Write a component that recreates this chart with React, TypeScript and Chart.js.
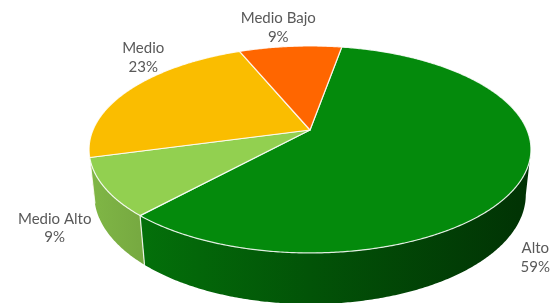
import React, { useEffect, useRef } from 'react';
import { Chart, registerables } from 'chart.js';

Chart.register(...registerables);

// ---- data ----
const categories = ['Alto', 'Medio Alto', 'Medio', 'Medio Bajo'];
const percentages = [59, 9, 23, 9];
const sliceColors = ['#048A0C', '#92D050', '#FABD00', '#FF6600'];
const firstSliceAngle = 10;
// label placement relative to the projected outer edge at each slice's middle angle
const labelOffsets = [
  [13, 75],
  [-50, 36],
  [13, -36],
  [-12, -23],
];

// ---- 3D projection constants (relative to pie radius) ----
const RD = 0.2117; // radius / camera distance
const COS_T = 0.888;
const SIN_T = 0.46;
const DEPTH = 0.05; // thickness / camera distance
const FOCAL = 7.885; // focal length in units of pie radius

function hexToRgb(h: string): number[] {
  const s = h.replace('#', '');
  return [0, 2, 4].map((i) => parseInt(s.slice(i, i + 2), 16));
}

function shadeColor(hex: string, f: number): string {
  const [r, g, b] = hexToRgb(hex);
  const c = (x: number) => Math.max(0, Math.min(255, Math.round(x * f)));
  return `rgb(${c(r)},${c(g)},${c(b)})`;
}

const pie3d = {
  id: 'pie3d',
  beforeDatasetsDraw(chart: any) {
    const meta = chart.getDatasetMeta(0);
    const arcs = meta.data as any[];
    if (!arcs.length) return false;
    const ctx: CanvasRenderingContext2D = chart.ctx;
    const cx = arcs[0].x;
    const cy = arcs[0].y;
    const r = arcs[0].outerRadius;
    const F = r * FOCAL;
    const proj = (phi: number, rho: number, h: number): [number, number] => {
      const u = rho * Math.cos(phi);
      const v = rho * Math.sin(phi);
      const zn = 1 - RD * v * COS_T + h * DEPTH * SIN_T;
      return [cx + (F * RD * u) / zn, cy + (F * (RD * v * SIN_T + h * DEPTH * COS_T)) / zn];
    };
    const step = Math.PI / 360;
    const halfW = F * RD * 1.02;
    const sil = Math.asin(RD * COS_T);
    const visLo = sil;
    const visHi = Math.PI - sil;

    ctx.save();
    // side walls (only the part facing the viewer), one band per slice
    arcs.forEach((el) => {
      const color = el.options.backgroundColor as string;
      for (const shift of [-2 * Math.PI, 0, 2 * Math.PI]) {
        const a0 = Math.max(el.startAngle + shift, visLo);
        const a1 = Math.min(el.endAngle + shift, visHi);
        if (a1 <= a0) continue;
        const n = Math.max(1, Math.ceil((a1 - a0) / step));
        ctx.beginPath();
        for (let k = 0; k <= n; k++) {
          const p = a0 + ((a1 - a0) * k) / n;
          const P = proj(p, 1, 0);
          if (k === 0) ctx.moveTo(P[0], P[1]);
          else ctx.lineTo(P[0], P[1]);
        }
        for (let k = n; k >= 0; k--) {
          const p = a0 + ((a1 - a0) * k) / n;
          const P = proj(p, 1, 1);
          ctx.lineTo(P[0], P[1]);
        }
        ctx.closePath();
        const g = ctx.createLinearGradient(cx - halfW, 0, cx + halfW, 0);
        g.addColorStop(0, shadeColor(color, 0.88));
        g.addColorStop(0.5, shadeColor(color, 0.6));
        g.addColorStop(1, shadeColor(color, 0.36));
        ctx.fillStyle = g;
        ctx.fill();
      }
    });
    // vertical edges at slice boundaries on the front
    arcs.forEach((el) => {
      const a = el.startAngle;
      if (Math.sin(a) > 0) {
        const T = proj(a, 1, 0);
        const Bt = proj(a, 1, 1);
        ctx.beginPath();
        ctx.moveTo(T[0], T[1]);
        ctx.lineTo(Bt[0], Bt[1]);
        ctx.strokeStyle = 'rgba(255,255,255,0.85)';
        ctx.lineWidth = 1.2;
        ctx.stroke();
      }
    });

    // top faces
    arcs.forEach((el) => {
      const color = el.options.backgroundColor as string;
      const a0 = el.startAngle;
      const a1 = el.endAngle;
      const n = Math.max(1, Math.ceil((a1 - a0) / step));
      ctx.beginPath();
      const O = proj(0, 0, 0);
      ctx.moveTo(O[0], O[1]);
      for (let k = 0; k <= n; k++) {
        const p = a0 + ((a1 - a0) * k) / n;
        const P = proj(p, 1, 0);
        ctx.lineTo(P[0], P[1]);
      }
      ctx.closePath();
      ctx.fillStyle = color;
      ctx.fill();
      ctx.strokeStyle = 'rgba(255,255,255,0.85)';
      ctx.lineWidth = 1.2;
      ctx.lineJoin = 'round';
      ctx.stroke();
    });

    // labels
    const values = chart.data.datasets[0].data as number[];
    const total = values.reduce((a: number, b: number) => a + b, 0);
    ctx.font = '15px Lato';
    ctx.fillStyle = '#595959';
    ctx.textAlign = 'center';
    ctx.textBaseline = 'alphabetic';
    arcs.forEach((el, i) => {
      const mid = (el.startAngle + el.endAngle) / 2;
      const E = proj(mid, 1, 0);
      const off = labelOffsets[i] || [0, 0];
      const x = E[0] + off[0];
      const y = E[1] + off[1];
      ctx.fillText(String(chart.data.labels[i]), x, y);
      ctx.fillText(Math.round((values[i] / total) * 100) + '%', x, y + 18.5);
    });
    ctx.restore();
    return false;
  },
};

export default function App() {
  const ref = useRef<HTMLCanvasElement | null>(null);
  useEffect(() => {
    if (!ref.current) return;
    const chart = new Chart(ref.current, {
      type: 'pie',
      data: {
        labels: categories,
        datasets: [
          {
            data: percentages,
            backgroundColor: sliceColors,
            borderWidth: 0,
          },
        ],
      },
      options: {
        responsive: false,
        animation: false,
        events: [],
        rotation: firstSliceAngle,
        layout: { padding: { left: 63, right: 0, top: 0, bottom: 43 } },
        plugins: {
          legend: { display: false },
          tooltip: { enabled: false },
        },
      },
      plugins: [pie3d],
    } as any);
    return () => chart.destroy();
  }, []);
  return (
    <div style={{ position: 'absolute', left: 0, top: 0, width: 557, height: 303, background: '#fff' }}>
      <canvas ref={ref} width={557} height={303} />
    </div>
  );
}
